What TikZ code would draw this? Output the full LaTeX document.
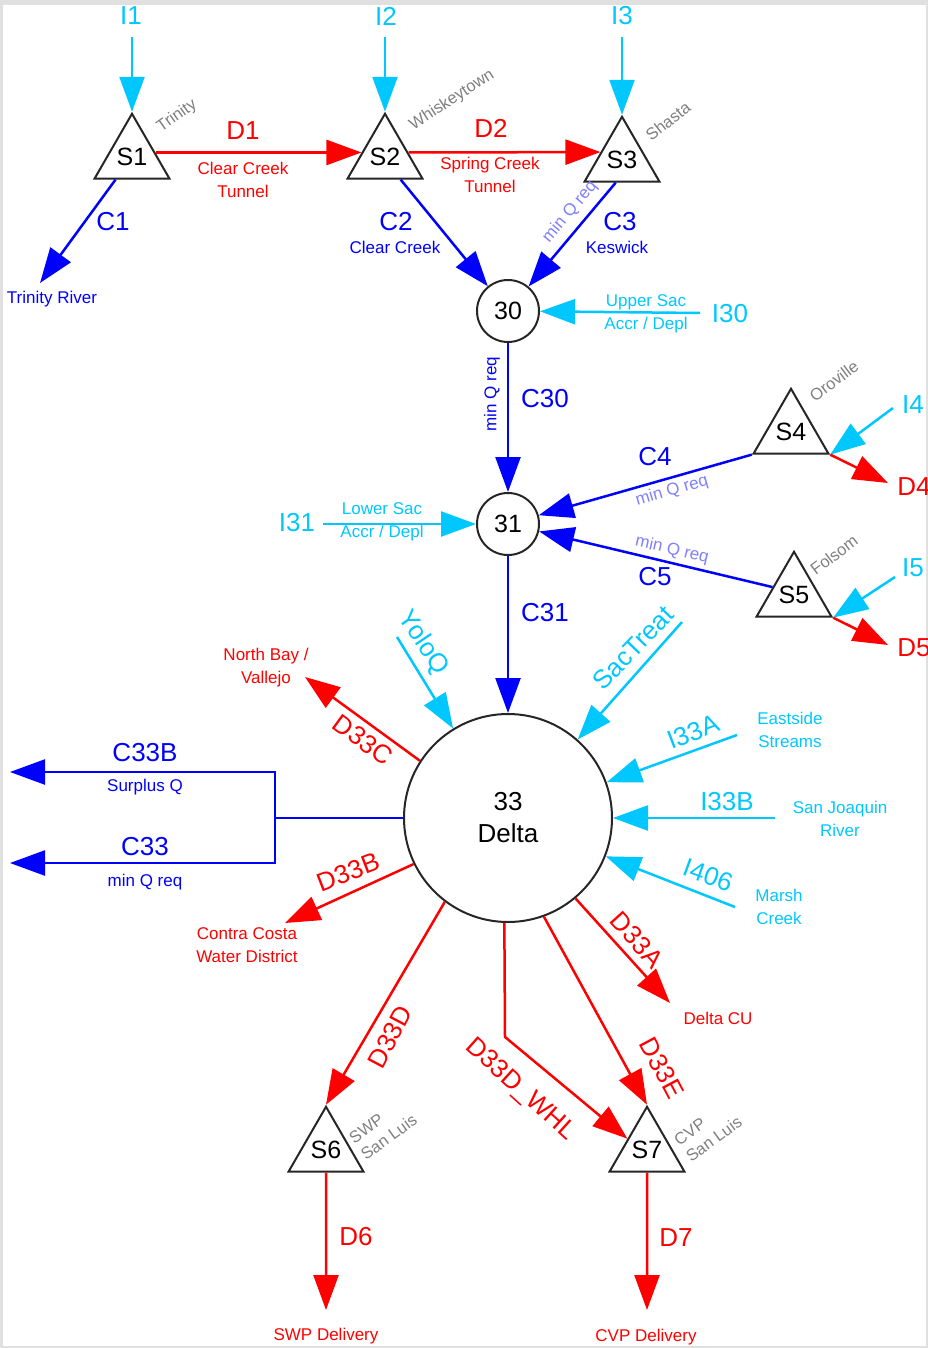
\documentclass[tikz,border=0pt]{standalone}
\usepackage{fontspec}
\setmainfont{Liberation Sans}
\usetikzlibrary{arrows.meta,shapes.geometric,calc}
\definecolor{cy}{RGB}{0,200,255}
\definecolor{bl}{RGB}{0,0,255}
\definecolor{rd}{RGB}{255,0,0}
\definecolor{gr}{RGB}{128,128,128}
\definecolor{lp}{RGB}{128,128,255}
\definecolor{bgg}{RGB}{224,224,224}
\newcommand{\fsBig}{\fontsize{26}{30}\selectfont}
\newcommand{\fsNode}{\fontsize{25}{30}\selectfont}
\newcommand{\fsSmall}{\fontsize{17}{23}\selectfont}
\newcommand{\fsGray}{\fontsize{16.5}{20}\selectfont}
\tikzset{
  tri/.style={regular polygon, regular polygon sides=3, minimum size=80.8pt, inner sep=0pt, draw=black!85, line width=2pt, fill=white, font=\fsNode},
  circ/.style={circle, draw=black!85, line width=2pt, minimum size=62pt, inner sep=0pt, fill=white, font=\fsNode},
  big/.style={font=\fsBig, inner sep=0pt},
  small/.style={font=\fsSmall, align=center, inner sep=0pt},
  graylab/.style={font=\fsGray, text=gr, align=left, inner sep=0pt},
  flow/.style={line width=2.5pt, -{Triangle[length=35pt,width=25pt]}},
  cflow/.style={flow, draw=cy},
  bflow/.style={flow, draw=bl},
  rflow/.style={flow, draw=rd}
}
\begin{document}
\begin{tikzpicture}[x=1pt,y=-1pt]
\useasboundingbox (0,0) rectangle (928,1348);
\fill[bgg] (0,0) rectangle (928,1348);
\fill[white] (3,5) rectangle (926,1346);

% nodes
\node[tri] (s1) at (132,157) {S1};
\node[tri] (s2) at (385,157) {S2};
\node[tri] (s3) at (622,160) {S3};
\node[tri] (s4) at (791,432) {S4};
\node[tri] (s5) at (794,595) {S5};
\node[tri] (s6) at (326,1150) {S6};
\node[tri] (s7) at (647,1150) {S7};
\node[circ] (c30) at (508,311) {30};
\node[circ] (c31) at (508,524) {31};
\node[circ, minimum size=208pt, font=\fontsize{26}{32}\selectfont, align=center] (c33) at (508,818) {33\\Delta};

% free ends
\coordinate (i1s) at (132,37);
\coordinate (i2s) at (385,37);
\coordinate (i3s) at (622,37);
\coordinate (c1e) at (40,283);
\coordinate (i30s) at (700,313);
\coordinate (i4s) at (893,408);
\coordinate (d4e) at (888,483);
\coordinate (i5s) at (895,577);
\coordinate (d5e) at (888,645);
\coordinate (i31s) at (323,524);
\coordinate (yolos) at (397,637);
\coordinate (sacs) at (682,622);
\coordinate (i33as) at (737,735);
\coordinate (i33bs) at (775,818);
\coordinate (i406s) at (735,907);
\coordinate (j) at (275,818);
\coordinate (c33bt) at (10,772);
\coordinate (c33t) at (10,863);
\coordinate (d33ce) at (305,677);
\coordinate (d33be) at (285,923);
\coordinate (d33ae) at (670,1003);
\coordinate (whl) at (505,1037);
\coordinate (d6e) at (326,1310);
\coordinate (d7e) at (647,1310);

% connectors
\draw[cflow] (i1s) -- (s1.corner 1);
\draw[cflow] (i2s) -- (s2.corner 1);
\draw[cflow] (i3s) -- (s3.corner 1);
\draw[rflow] ($(s1.corner 1)!0.6!(s1.corner 3)$) -- ($(s2.corner 1)!0.6!(s2.corner 2)$);
\draw[rflow] ($(s2.corner 1)!0.6!(s2.corner 3)$) -- ($(s3.corner 1)!0.55!(s3.corner 2)$);
\draw[bflow] ($(s1.corner 2)!0.29!(s1.corner 3)$) -- (c1e);
\draw[bflow] ($(s2.corner 2)!0.7!(s2.corner 3)$) -- (c30);
\draw[bflow] ($(s3.corner 2)!0.42!(s3.corner 3)$) -- (c30);
\draw[cflow] (i30s) -- (c30);
\draw[bflow] (c30) -- (c31);
\draw[bflow] (s4.corner 2) -- (c31);
\draw[bflow] ($(s5.corner 1)!0.55!(s5.corner 2)$) -- (c31);
\draw[cflow] (i4s) -- (s4.corner 3);
\draw[rflow] (s4.corner 3) -- (d4e);
\draw[cflow] (i5s) -- (s5.corner 3);
\draw[rflow] (s5.corner 3) -- (d5e);
\draw[cflow] (i31s) -- (c31);
\draw[bflow] (c31) -- (c33);
\draw[cflow] (yolos) -- (c33);
\draw[cflow] (sacs) -- (c33);
\draw[cflow] (i33as) -- (c33);
\draw[cflow] (i33bs) -- (c33);
\draw[cflow] (i406s) -- (c33);
\draw[bl, line width=2.5pt] (c33.west) -- (j);
\draw[bflow] (j) |- (c33bt);
\draw[bflow] (j) |- (c33t);
\draw[rflow] (c33.147) -- (d33ce);
\draw[rflow] (c33.206) -- (d33be);
\draw[rflow] (c33.310) -- (d33ae);
\draw[rflow] (c33.233) -- (s6.corner 1);
\draw[rflow] (c33.268) -- (whl) -- ($(s7.corner 1)!0.5!(s7.corner 2)$);
\draw[rflow] (c33.290) -- (s7.corner 1);
\draw[rflow] (s6.south) -- (d6e);
\draw[rflow] (s7.south) -- (d7e);

% labels top
\node[big, text=cy] (li1) at (131,16) {I1};
\node[big, text=cy] (li2) at (386,16) {I2};
\node[big, text=cy] (li3) at (622,16) {I3};
\node[big, text=rd] (ld1) at (243,131) {D1};
\node[small, text=rd] (ld1s) at (243,179.5) {Clear Creek\\Tunnel};
\node[big, text=rd] (ld2) at (491,128) {D2};
\node[small, text=rd] (ld2s) at (490,175) {Spring Creek\\Tunnel};
\node[big, text=bl] (lc1) at (113,222) {C1};
\node[small, text=bl] (lc1s) at (52,299) {Trinity River};
\node[big, text=bl] (lc2) at (396,222) {C2};
\node[small, text=bl] (lc2s) at (395,247) {Clear Creek};
\node[big, text=bl] (lc3) at (620,222) {C3};
\node[small, text=bl] (lc3s) at (617,247) {Keswick};
\node[small, text=lp, rotate=50] (lc3q) at (570,212) {min Q req};
\node[big, text=cy] (li30) at (730,314) {I30};
\node[small, text=cy] (li30s) at (646,313.5) {Upper Sac\\Accr / Depl};
\node[graylab, rotate=35] (lt1) at (177,116) {Trinity};
\node[graylab, rotate=33] (lt2) at (452,100) {Whiskeytown};
\node[graylab, rotate=38] (lt3) at (668,121) {Shasta};

% middle
\node[big, text=bl] (lc30) at (545,399) {C30};
\node[small, text=bl, rotate=90] (lc30q) at (492,394) {min Q req};
\node[big, text=bl] (lc4) at (655,457) {C4};
\node[small, text=lp, rotate=16] (lc4q) at (672,491) {min Q req};
\node[big, text=bl] (lc5) at (655,577) {C5};
\node[small, text=lp, rotate=-13] (lc5q) at (672,550) {min Q req};
\node[big, text=cy] (li4) at (913,405) {I4};
\node[big, text=rd] (ld4) at (914,487) {D4};
\node[big, text=cy] (li5) at (913,568) {I5};
\node[big, text=rd] (ld5) at (914,648) {D5};
\node[graylab, rotate=37] (lt4) at (834,381) {Oroville};
\node[graylab, rotate=37] (lt5) at (834,555) {Folsom};
\node[big, text=cy] (li31) at (297,523) {I31};
\node[small, text=cy] (li31s) at (382,522) {Lower Sac\\Accr / Depl};
\node[big, text=bl] (lc31) at (545,613) {C31};
\node[big, text=cy, rotate=-56] (lyolo) at (423,643) {YoloQ};
\node[big, text=cy, rotate=46] (lsac) at (633,648) {SacTreat};

% delta surroundings
\node[big, text=cy, rotate=21] (li33a) at (693,732) {I33A};
\node[small, text=cy] (li33as) at (790,729.5) {Eastside\\Streams};
\node[big, text=cy] (li33b) at (727,802) {I33B};
\node[small, text=cy] (li33bs) at (840,819) {San Joaquin\\River};
\node[big, text=cy, rotate=-20] (li406) at (708,875) {I406};
\node[small, text=cy] (li406s) at (779,907) {Marsh\\Creek};
\node[big, text=rd, rotate=-36] (ld33c) at (363,740) {D33C};
\node[small, text=rd] (ld33cs) at (266,667.5) {North Bay /\\Vallejo};
\node[big, text=rd, rotate=21] (ld33b) at (348,872) {D33B};
\node[small, text=rd] (ld33bs) at (247,945) {Contra Costa\\Water District};
\node[big, text=rd, rotate=-48] (ld33a) at (637,940) {D33A};
\node[small, text=rd] (ld33as) at (718,1018) {Delta CU};
\node[big, text=bl] (lc33b) at (145,753) {C33B};
\node[small, text=bl] (lc33bs) at (145,787) {Surplus Q};
\node[big, text=bl] (lc33) at (145,847) {C33};
\node[small, text=bl] (lc33s) at (145,882) {min Q req};

% bottom
\node[big, text=rd, rotate=62] (ld33d) at (390,1037) {D33D};
\node[big, text=rd, rotate=-42] (lwhl) at (520,1090) {D33D\_WHL};
\node[big, text=rd, rotate=-62] (ld33e) at (662,1068) {D33E};
\node[graylab, rotate=36] (lt6) at (383,1129) {SWP\\San Luis};
\node[graylab, rotate=36] (lt7) at (708,1131) {CVP\\San Luis};
\node[big, text=rd] (ld6) at (356,1237) {D6};
\node[small, text=rd] (ld6s) at (326,1336) {SWP  Delivery};
\node[big, text=rd] (ld7) at (676,1238) {D7};
\node[small, text=rd] (ld7s) at (646,1337) {CVP  Delivery};
\end{tikzpicture}
\end{document}
